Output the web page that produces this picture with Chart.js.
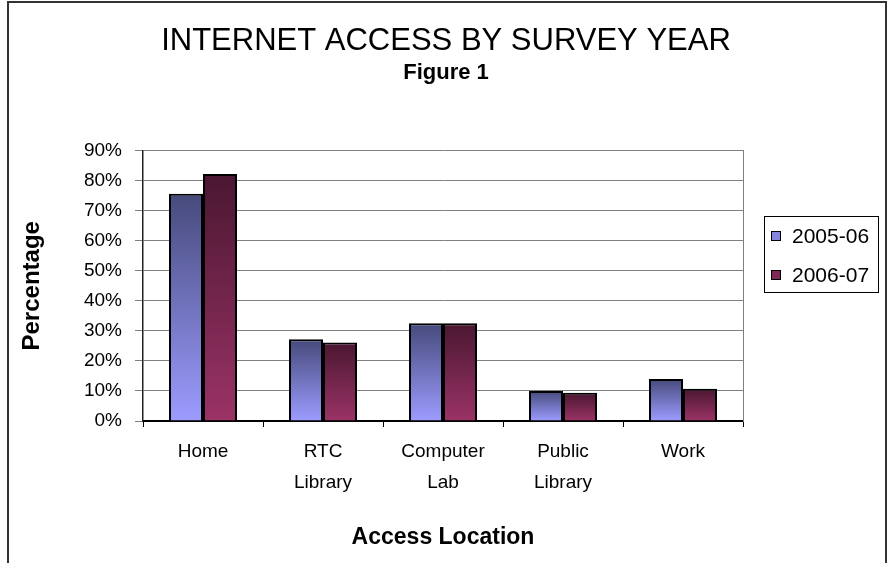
<!DOCTYPE html>
<html>
<head>
<meta charset="utf-8">
<script src="https://cdn.jsdelivr.net/npm/chart.js@4"></script>
<style>
  html, body { margin: 0; padding: 0; background: #fff; }
  canvas { display: block; }
</style>
</head>
<body>
<canvas id="chart" width="892" height="563"></canvas>
<script>
const categories = [['Home'], ['RTC', 'Library'], ['Computer', 'Lab'], ['Public', 'Library'], ['Work']];
const seriesNames = ['2005-06', '2006-07'];
const values2005 = [75.6, 27.2, 32.5, 10.0, 14.0];
const values2006 = [82.2, 26.1, 32.5, 9.4, 10.7];

const FONT = '"Liberation Sans", Arial, sans-serif';

function barGradient(top, bottom) {
  return function(c) {
    const chart = c.chart;
    const y = chart.scales && chart.scales.y;
    if (c.type !== 'data' || !y) return bottom;
    const y0 = y.getPixelForValue(0);
    const y1 = y.getPixelForValue(c.raw);
    if (!isFinite(y0) || !isFinite(y1) || y0 === y1) return bottom;
    const g = chart.ctx.createLinearGradient(0, y1, 0, y0);
    g.addColorStop(0, top);
    g.addColorStop(1, bottom);
    return g;
  };
}

const legendColors = ['#8585dd', '#7d2a56'];

// white background and the outer frame
const frame = {
  id: 'frame',
  beforeDraw(chart) {
    const ctx = chart.ctx;
    ctx.save();
    ctx.fillStyle = '#fff';
    ctx.fillRect(0, 0, chart.width, chart.height);
    ctx.strokeStyle = '#333';
    ctx.lineWidth = 2;
    ctx.strokeRect(8, 2, 878, 620);
    ctx.restore();
  }
};

const legendBox = {
  id: 'legendBox',
  afterDraw(chart) {
    const ctx = chart.ctx;
    ctx.save();
    ctx.strokeStyle = '#000';
    ctx.lineWidth = 1;
    ctx.strokeRect(764.5, 216.5, 114, 76);
    ctx.font = '21px ' + FONT;
    ctx.textBaseline = 'middle';
    chart.data.datasets.forEach(function(ds, i) {
      const cy = 236 + i * 39;
      ctx.fillStyle = legendColors[i];
      ctx.fillRect(772, cy - 4, 8, 8);
      ctx.strokeRect(771.5, cy - 4.5, 9, 9);
      ctx.fillStyle = '#000';
      ctx.fillText(ds.label, 792, cy + 1);
    });
    ctx.restore();
  }
};

new Chart(document.getElementById('chart').getContext('2d'), {
  type: 'bar',
  data: {
    labels: categories,
    datasets: [
      {
        label: seriesNames[0],
        data: values2005,
        backgroundColor: barGradient('#464a7b', '#9c9cff'),
        borderColor: '#000',
        borderWidth: 2
      },
      {
        label: seriesNames[1],
        data: values2006,
        backgroundColor: barGradient('#4a1731', '#9b3366'),
        borderColor: '#000',
        borderWidth: 2
      }
    ]
  },
  options: {
    responsive: false,
    animation: false,
    events: [],
    layout: { padding: { left: 0, right: 0, top: 0, bottom: 12 } },
    datasets: { bar: { categoryPercentage: 0.567, barPercentage: 1 } },
    plugins: {
      legend: { display: false },
      tooltip: { enabled: false },
      title: {
        display: true,
        text: 'INTERNET ACCESS BY SURVEY YEAR',
        color: '#000',
        font: { family: FONT, size: 31, weight: 'normal' },
        padding: { top: 23, bottom: 0 }
      },
      subtitle: {
        display: true,
        text: 'Figure 1',
        color: '#000',
        font: { family: FONT, size: 22, weight: 'bold' },
        padding: { top: 0, bottom: 64 }
      }
    },
    scales: {
      x: {
        afterFit: function(s) { s.height = 130; },
        grid: { drawOnChartArea: false, drawTicks: true, tickLength: 6, color: '#000' },
        border: { color: '#000', width: 2 },
        ticks: {
          color: '#000',
          padding: 10,
          maxRotation: 0,
          font: { family: FONT, size: 19, lineHeight: 1.6 }
        },
        title: {
          display: true,
          text: 'Access Location',
          color: '#000',
          font: { family: FONT, size: 23, weight: 'bold' },
          padding: { top: 25, bottom: 0 }
        }
      },
      y: {
        min: 0,
        max: 90,
        afterFit: function(s) { s.width = 143; },
        grid: { color: '#808080', tickLength: 8, lineWidth: 1 },
        border: { color: '#222', width: 1.5 },
        ticks: {
          stepSize: 10,
          color: '#000',
          padding: 13,
          font: { family: FONT, size: 19 },
          callback: function(v) { return v + '%'; }
        },
        title: {
          display: true,
          text: 'Percentage',
          color: '#000',
          font: { family: FONT, size: 24, weight: 'bold' },
          padding: { top: 18, bottom: 0 }
        }
      },
      // empty right-hand scale: reserves the legend space and draws the plot's right edge
      yRight: {
        position: 'right',
        min: 0,
        max: 90,
        afterFit: function(s) { s.width = 149; },
        grid: { display: false },
        ticks: { display: false },
        border: { color: '#808080', width: 1 }
      }
    }
  },
  plugins: [frame, legendBox]
});
</script>
</body>
</html>
